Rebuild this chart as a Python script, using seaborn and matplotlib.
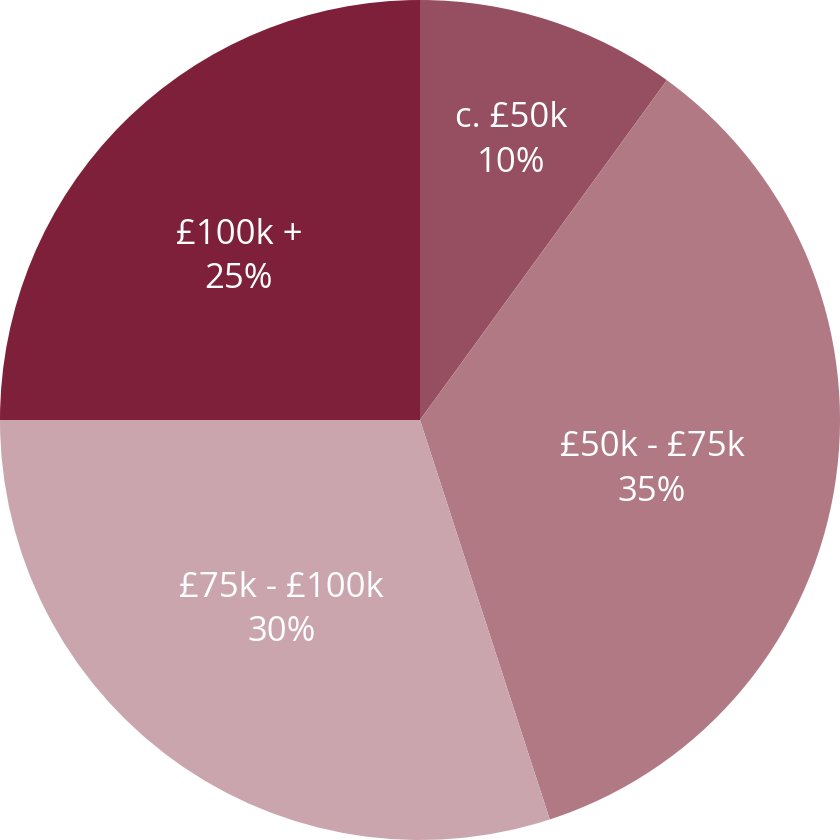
import numpy as np
import matplotlib
matplotlib.use('Agg')
import matplotlib.pyplot as plt
import seaborn as sns

sns.set_theme(style='white')
plt.rcParams['font.family'] = ['Open Sans', 'DejaVu Sans']

# Salary bands, clockwise from 12 o'clock
labels = ['c. £50k', '£50k - £75k', '£75k - £100k', '£100k +']
shares = [10, 35, 30, 25]
colors = ['#964f60', '#b07984', '#caa5ae', '#7e2039']

# label placement: fraction of radius and angle nudge (deg) from wedge middle
label_r = [0.70, 0.565, 0.56, 0.58]
label_shift = [0, -3, 0, 3]

fig, ax = plt.subplots(figsize=(8.4, 8.4), dpi=100)
fig.subplots_adjust(left=0, right=1, top=1, bottom=0)

wedges, _ = ax.pie(shares, colors=colors, startangle=90, counterclock=False,
                   radius=1.0, wedgeprops=dict(linewidth=0))

for w, lab, val, r, d in zip(wedges, labels, shares, label_r, label_shift):
    mid = np.deg2rad((w.theta1 + w.theta2) / 2 + d)
    ax.text(r * np.cos(mid), r * np.sin(mid), f'{lab}\n{val}%',
            ha='center', va='center', color='white', fontsize=25,
            linespacing=1.4)

ax.set_xlim(-1.0, 1.0)
ax.set_ylim(-1.0, 1.0)
ax.set_aspect('equal')
ax.axis('off')

plt.savefig('out.png', dpi=100)
plt.close()
